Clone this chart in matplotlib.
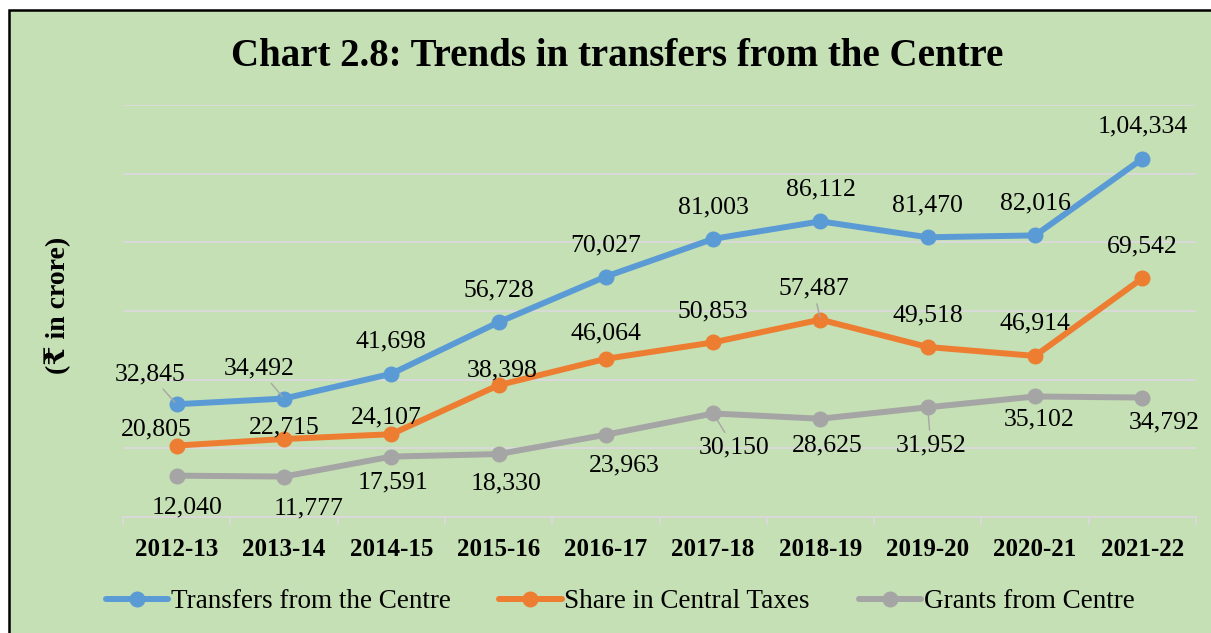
import matplotlib
matplotlib.use("Agg")
import matplotlib.pyplot as plt
from matplotlib.patches import Rectangle

plt.rcParams['font.family'] = ['Liberation Serif', 'DejaVu Serif', 'DejaVu Sans']

years = ["2012-13", "2013-14", "2014-15", "2015-16", "2016-17",
         "2017-18", "2018-19", "2019-20", "2020-21", "2021-22"]
transfers = [32845, 34492, 41698, 56728, 70027, 81003, 86112, 81470, 82016, 104334]
share_taxes = [20805, 22715, 24107, 38398, 46064, 50853, 57487, 49518, 46914, 69542]
grants = [12040, 11777, 17591, 18330, 23963, 30150, 28625, 31952, 35102, 34792]
labels_transfers = ["32,845", "34,492", "41,698", "56,728", "70,027",
                    "81,003", "86,112", "81,470", "82,016", "1,04,334"]
labels_share = ["20,805", "22,715", "24,107", "38,398", "46,064",
                "50,853", "57,487", "49,518", "46,914", "69,542"]
labels_grants = ["12,040", "11,777", "17,591", "18,330", "23,963",
                 "30,150", "28,625", "31,952", "35,102", "34,792"]

# label offsets in pixels (dx, dy up) and leader-line flags
off_transfers = [(-27, 30), (-25, 30), (0, 32), (0, 32), (0, 31),
                 (0, 31), (0, 32), (0, 32), (0, 32), (0, 32)]
off_share = [(-20, 16), (0, 12), (-5, 17), (4, 15), (0, 25),
             (0, 31), (-7, 31), (0, 32), (0, 32), (0, 32)]
off_grants = [(10, -32), (25, -32), (2, -26), (8, -29), (18, -31),
              (21, -34), (7, -27), (3, -38), (4, -23), (22, -25)]
lead_transfers = [True, True] + [False] * 8
lead_share = [False] * 6 + [True] + [False] * 3
lead_grants = [False] * 5 + [True, False, True, False, False]

W, H = 1211, 633
fig = plt.figure(figsize=(W / 100, H / 100), dpi=100)
fig.patch.set_facecolor('white')
bg = '#C5E0B4'
frame = Rectangle((9 / W, -0.05), 1.2, (H - 10) / H + 0.05,
                  transform=fig.transFigure, facecolor=bg,
                  edgecolor='black', linewidth=1.8, zorder=-10)
fig.add_artist(frame)

ax = fig.add_axes([123 / W, (H - 517) / H, (1196 - 123) / W, (517 - 105) / H])
ax.set_facecolor('none')
ax.set_zorder(1)

x = list(range(len(years)))
series = [
    (transfers, labels_transfers, off_transfers, lead_transfers, '#5B9BD5', 'Transfers from the Centre'),
    (share_taxes, labels_share, off_share, lead_share, '#ED7D31', 'Share in Central Taxes'),
    (grants, labels_grants, off_grants, lead_grants, '#A5A5A5', 'Grants from Centre'),
]
for vals, labs, offs, leads, col, name in series:
    ax.plot(x, vals, color=col, lw=4.3, marker='o', markersize=10.5,
            label=name, zorder=3, solid_capstyle='round')
    for xi, v, lab, (dx, dy), lead in zip(x, vals, labs, offs, leads):
        kw = {}
        if lead:
            kw['arrowprops'] = dict(arrowstyle='-', color='#A6A6A6', lw=1.0,
                                    shrinkA=1, shrinkB=2)
        ax.annotate(lab, xy=(xi, v), xytext=(dx, dy), textcoords='offset pixels',
                    ha='center', va='center', fontsize=18.5, color='black',
                    zorder=4, **kw)

ax.set_xlim(-0.5, len(years) - 0.5)
ax.set_ylim(0, 120000)
ax.set_yticks(range(0, 120001, 20000))
ax.grid(axis='y', color='#D9D9D9', lw=1.5, zorder=0)
ax.set_axisbelow(True)
ax.tick_params(axis='y', left=False, labelleft=False)
for s in ['top', 'right', 'left']:
    ax.spines[s].set_visible(False)
ax.spines['bottom'].set_color('#D9D9D9')
ax.spines['bottom'].set_linewidth(1.5)

ax.set_xticks(x)
ax.set_xticklabels(years, fontsize=18, fontweight='bold')
ax.tick_params(axis='x', which='major', length=0, pad=15)
ax.set_xticks([i - 0.5 for i in range(len(years) + 1)], minor=True)
ax.tick_params(axis='x', which='minor', length=6, width=1.5, color='#D9D9D9', direction='out')

fig.text(617 / W, 1 - 56 / H, "Chart 2.8: Trends in transfers from the Centre",
         ha='center', va='center', fontsize=28, fontweight='bold')
fig.text(58 / W, 1 - 305 / H, "(₹ in crore)", rotation=90, ha='center', va='center',
         fontsize=20, fontweight='bold')

leg = fig.legend(loc='center', bbox_to_anchor=(620 / W, 1 - 602 / H), ncol=3,
                 frameon=False, fontsize=19.5, handlelength=2.3, handletextpad=0.1,
                 columnspacing=1.8)

fig.savefig('out.png', dpi=100, facecolor=fig.get_facecolor())
